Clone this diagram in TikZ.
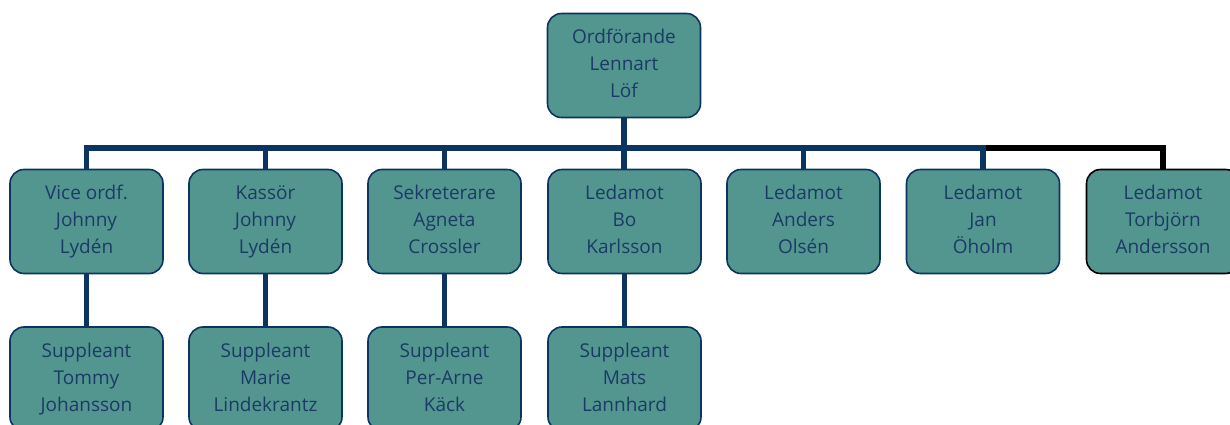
\documentclass[tikz,border=0pt]{standalone}
\usepackage{fontspec}
\setmainfont{Open Sans}
\definecolor{boxfill}{HTML}{52968F}
\definecolor{navy}{HTML}{0B3560}
\definecolor{txt}{HTML}{1C3A66}
\newcommand\bxtext[1]{\raisebox{4.5pt}{\begin{tabular}{@{}c@{}}#1\end{tabular}}}
\begin{document}
\begin{tikzpicture}[x=1pt,y=1pt,
  box/.style={draw=navy,line width=1.6pt,fill=boxfill,rounded corners=14pt,
    minimum width=153pt,minimum height=104pt,inner sep=0pt,
    text=txt,font=\fontsize{19}{27}\selectfont},
  conn/.style={draw=navy,line width=5.5pt},
  connb/.style={draw=black,line width=5.5pt}]
\useasboundingbox (0,0) rectangle (1230,425);
\clip (0,0) rectangle (1230,425);
\node[box] (top) at (624,359.5) {\bxtext{Ordförande\\Lennart\\Löf}};
\node[box] (b1) at (86.5,203.5) {\bxtext{Vice ordf.\\Johnny\\Lydén}};
\node[box] (b2) at (265.5,203.5) {\bxtext{Kassör\\Johnny\\Lydén}};
\node[box] (b3) at (444.5,203.5) {\bxtext{Sekreterare\\Agneta\\Crossler}};
\node[box] (b4) at (624.5,203.5) {\bxtext{Ledamot\\Bo\\Karlsson}};
\node[box] (b5) at (803.5,203.5) {\bxtext{Ledamot\\Anders\\Olsén}};
\node[box] (b6) at (983,203.5) {\bxtext{Ledamot\\Jan\\Öholm}};
\node[box,draw=black] (b7) at (1163,203.5) {\bxtext{Ledamot\\Torbjörn\\Andersson}};
\node[box] (s1) at (86.5,46) {\bxtext{Suppleant\\Tommy\\Johansson}};
\node[box] (s2) at (265.5,46) {\bxtext{Suppleant\\Marie\\Lindekrantz}};
\node[box] (s3) at (444.5,46) {\bxtext{Suppleant\\Per-Arne\\Käck}};
\node[box] (s4) at (624.5,46) {\bxtext{Suppleant\\Mats\\Lannhard}};
\coordinate (bus) at (0,277);
\draw[connb] (b6.north |- bus) -- (b7.north |- bus) -- (b7.north);
\draw[conn] (b1.north) -- (b1.north |- bus) -- (b6.north |- bus) -- (b6.north);
\draw[conn] (top.south) -- (top.south |- b4.north);
\foreach \b in {b2,b3,b5} \draw[conn] (\b.north) -- (\b.north |- bus);
\foreach \a/\s in {b1/s1,b2/s2,b3/s3,b4/s4} \draw[conn] (\a.south) -- (\s.north);
\end{tikzpicture}
\end{document}
